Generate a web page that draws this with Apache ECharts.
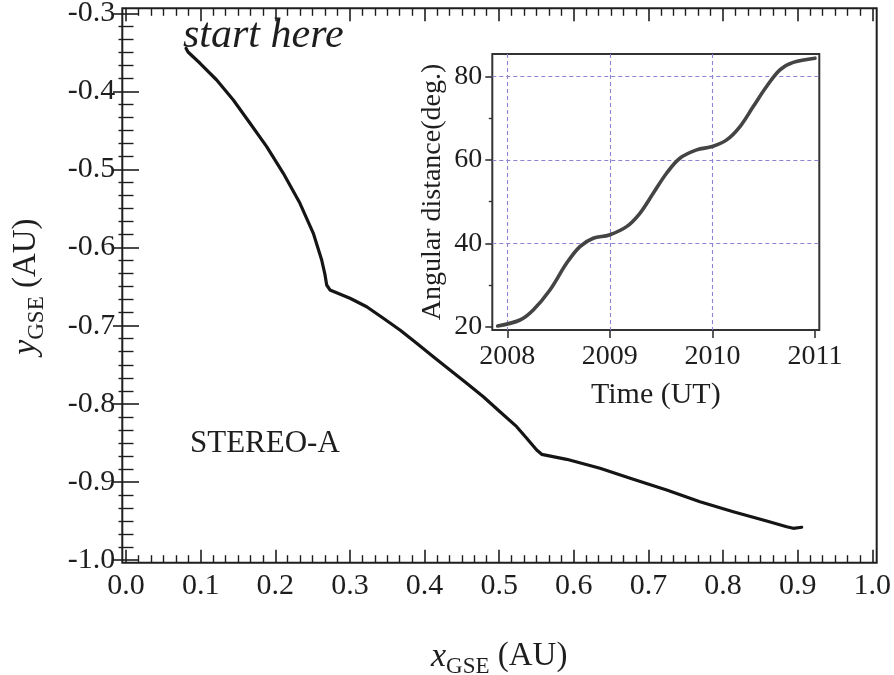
<!DOCTYPE html>
<html><head><meta charset="utf-8">
<script src="https://cdn.jsdelivr.net/npm/echarts@6/dist/echarts.min.js"></script>
<style>html,body{margin:0;padding:0;background:#fff}#c{width:894px;height:675px}</style>
</head><body><div id="c"></div>
<script>
// ---- main panel data (STEREO-A orbit in GSE) ----
const orbitX = [0.0804,0.0831,0.0992,0.1215,0.1438,0.1662,0.1885,0.2108,0.2331,0.2510,0.2622,0.2667,0.2689,0.2733,0.3001,0.3225,0.3448,0.3671,0.3895,0.4118,0.4341,0.4565,0.4788,0.5011,0.5235,0.5369,0.5503,0.5570,0.5905,0.6351,0.6797,0.7245,0.7691,0.8137,0.8585,0.8853,0.8941,0.9054];
const orbitY = [-0.3448,-0.3496,-0.3640,-0.3854,-0.4110,-0.4408,-0.4708,-0.5049,-0.5433,-0.5817,-0.6159,-0.6350,-0.6479,-0.6542,-0.6649,-0.6757,-0.6905,-0.7055,-0.7225,-0.7397,-0.7567,-0.7738,-0.7909,-0.8101,-0.8293,-0.8442,-0.8592,-0.8647,-0.8711,-0.8826,-0.8967,-0.9104,-0.9254,-0.9382,-0.9501,-0.9574,-0.9594,-0.9581];
const xTickLabels = ['0.0','0.1','0.2','0.3','0.4','0.5','0.6','0.7','0.8','0.9','1.0'];
const yTickLabels = ['-1.0','-0.9','-0.8','-0.7','-0.6','-0.5','-0.4','-0.3'];
// ---- inset data (angular distance vs time) ----
const insetYears = [2007.906,2008.124,2008.253,2008.416,2008.578,2008.708,2008.838,2008.994,2009.163,2009.293,2009.423,2009.553,2009.683,2009.846,2009.999,2010.139,2010.269,2010.398,2010.528,2010.658,2010.788,2011.0];
const insetAngle = [20.16,21.6,24.0,28.8,35.2,39.2,41.2,42.0,44.0,47.2,52.0,56.8,60.4,62.4,63.2,64.8,68.0,72.8,77.6,81.6,83.4,84.4];
const insetXTicks = [2008,2009,2010,2011];
const insetYTicks = [20,40,60,80];
const insetYMinor = [30,50,70];
const insetXGrid = [2008,2009,2010];
const insetYGrid = [40,60,80];

const FONT = '"Liberation Serif", "Times New Roman", serif';
const INK = '#1e1e1e';

const chart = echarts.init(document.getElementById('c'), null, {renderer:'canvas'});

const mainTick = {show:true, inside:true, length:13, lineStyle:{color:INK, width:1.6}};
const mainMinor = {show:true, splitNumber:6, length:7.5, lineStyle:{color:INK, width:1.4}};
const richName = {
  i:{fontFamily:FONT, fontStyle:'italic', fontSize:34, color:INK, lineHeight:44},
  s:{fontFamily:FONT, fontSize:23, color:INK, lineHeight:44, verticalAlign:'bottom'},
  n:{fontFamily:FONT, fontSize:33, color:INK, lineHeight:44}
};
const labelFmt = (arr, lo) => (v) => { const i = Math.round((v - lo) / 0.1); return arr[i] !== undefined ? arr[i] : ''; };

const option = {
  animation:false,
  backgroundColor:'#fff',
  grid:[
    {left:122.3, top:8.3, width:754.4, height:554.4, show:true, borderColor:INK, borderWidth:2, backgroundColor:'transparent', containLabel:false, outerBoundsMode:'none'},
    {left:126, top:13.3, width:746.3, height:546.7, containLabel:false, outerBoundsMode:'none'},
    {left:492.3, top:54, width:327, height:276, show:true, borderColor:'#333', borderWidth:2, backgroundColor:'#fff', containLabel:false, outerBoundsMode:'none'}
  ],
  xAxis:[
    {gridIndex:0, type:'value', min:0, max:1, show:false},
    {gridIndex:1, type:'value', position:'bottom', offset:2.7, min:0, max:1, interval:0.1,
     axisLine:{show:false}, axisTick:mainTick, minorTick:mainMinor, splitLine:{show:false},
     axisLabel:{formatter:labelFmt(xTickLabels,0), fontFamily:FONT, fontSize:30, color:INK, margin:8},
     name:'{i|x}{s|GSE}{n| (AU)}', nameLocation:'middle', nameGap:72, nameTextStyle:{rich:richName}},
    {gridIndex:1, type:'value', position:'top', offset:5, min:0, max:1, interval:0.1,
     axisLine:{show:false}, axisTick:mainTick, minorTick:mainMinor, splitLine:{show:false}, axisLabel:{show:false}},
    {gridIndex:2, type:'value', min:2007.854, max:2011.042,
     axisLine:{show:false}, axisTick:{show:true, customValues:insetXTicks, length:8, lineStyle:{color:'#333', width:1.6}},
     axisLabel:{customValues:insetXTicks, formatter:(v)=>v.toFixed(0), fontFamily:FONT, fontSize:28, color:INK, margin:13},
     splitLine:{show:false},
     name:'Time (UT)', nameLocation:'middle', nameGap:50, nameTextStyle:{fontFamily:FONT, fontSize:30, color:INK}},
    {gridIndex:2, type:'value', min:2007.854, max:2011.042,
     axisLine:{show:false}, axisTick:{show:false, customValues:insetXGrid}, axisLabel:{show:false},
     splitLine:{show:true, showMinLine:true, showMaxLine:true, lineStyle:{color:'#8a84d6', width:1.1, type:[4,3]}}}
  ],
  yAxis:[
    {gridIndex:0, type:'value', min:0, max:1, show:false},
    {gridIndex:1, type:'value', position:'left', offset:3.7, min:-1.0, max:-0.3, interval:0.1,
     axisLine:{show:false}, axisTick:mainTick, minorTick:mainMinor, splitLine:{show:false},
     axisLabel:{formatter:labelFmt(yTickLabels,-1.0), fontFamily:FONT, fontSize:30, color:INK, margin:7},
     name:'{i|y}{s|GSE}{n| (AU)}', nameLocation:'middle', nameGap:74, nameRotate:90, nameTextStyle:{rich:richName}},
    {gridIndex:1, type:'value', position:'right', offset:4.4, min:-1.0, max:-0.3, interval:0.1,
     axisLine:{show:false}, axisTick:mainTick, minorTick:mainMinor, splitLine:{show:false}, axisLabel:{show:false}},
    {gridIndex:2, type:'value', position:'left', min:19.2, max:85.4,
     axisLine:{show:false}, axisTick:{show:true, customValues:insetYTicks, length:7, lineStyle:{color:'#333', width:1.6}},
     axisLabel:{customValues:insetYTicks, fontFamily:FONT, fontSize:28, color:INK, margin:10},
     splitLine:{show:false},
     name:'Angular distance(deg.)', nameLocation:'middle', nameGap:46, nameRotate:90, nameTextStyle:{fontFamily:FONT, fontSize:28, color:INK}},
    {gridIndex:2, type:'value', position:'left', min:19.2, max:85.4,
     axisLine:{show:false}, axisTick:{show:true, customValues:insetYMinor, length:3.5, lineStyle:{color:'#333', width:1.4}},
     axisLabel:{show:false}, splitLine:{show:false}},
    {gridIndex:2, type:'value', position:'left', min:19.2, max:85.4,
     axisLine:{show:false}, axisTick:{show:false, customValues:insetYGrid}, axisLabel:{show:false},
     splitLine:{show:true, showMinLine:true, showMaxLine:true, lineStyle:{color:'#8a84d6', width:1.1, type:[4,3]}}}
  ],
  series:[
    {type:'line', xAxisIndex:1, yAxisIndex:1, data:orbitX.map((x,i)=>[x, orbitY[i]]),
     showSymbol:false, symbol:'none', lineStyle:{color:'#151515', width:3.2, cap:'round', join:'round'}, z:3},
    {type:'line', xAxisIndex:3, yAxisIndex:3, data:insetYears.map((t,i)=>[t, insetAngle[i]]),
     showSymbol:false, symbol:'none', smooth:0.35, clip:false, lineStyle:{color:'#444', width:3.6, cap:'round'}, z:5}
  ],
  graphic:[
    {type:'text', left:183, top:15, z:10, style:{text:'start here', font:'italic 42px ' + FONT, fill:INK}},
    {type:'text', left:190, top:428, z:10, style:{text:'STEREO-A', font:'31px ' + FONT, fill:INK}}
  ]
};
chart.setOption(option);
</script>
</body></html>
